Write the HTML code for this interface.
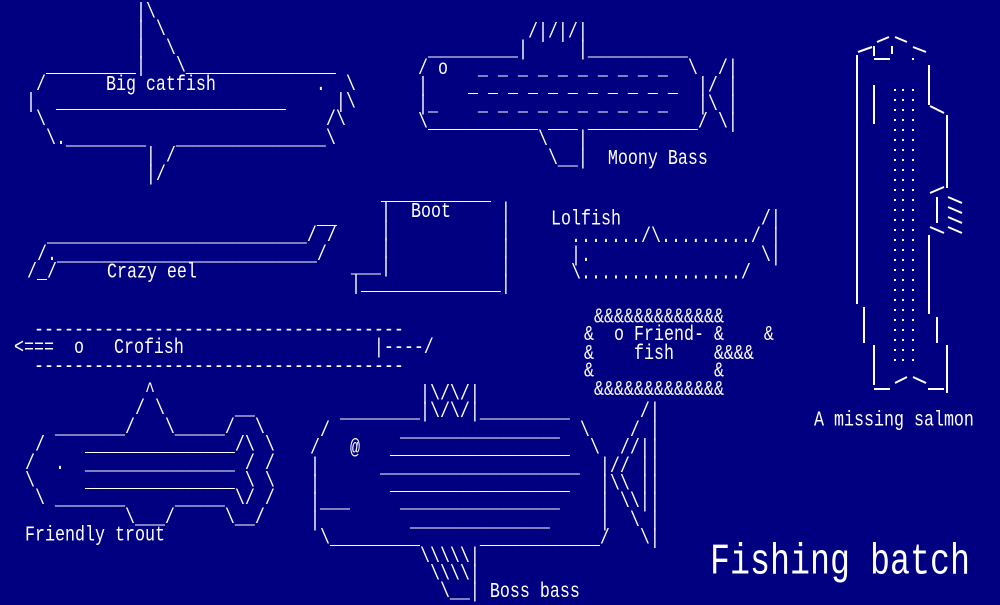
<!DOCTYPE html>
<html><head><meta charset="utf-8">
<style>
html,body{margin:0;padding:0;}
body{width:1000px;height:600px;background:#000080;position:relative;overflow:hidden;}
pre{position:absolute;margin:0;font-family:"Liberation Mono",monospace;font-size:16.667px;line-height:14.4px;color:#fff;white-space:pre;transform:scaleY(1.25);transform-origin:0 0;}
.t{position:absolute;margin:0;font-family:"Liberation Mono",monospace;color:#fff;white-space:pre;transform-origin:0 0;}
</style></head><body>
<pre style="left:6px;top:4.5px">             |\
             | \
             |  \
    _________|   \_______________
   /      Big catfish          .  \
  |  _______________________     |\
   \                            /\
    \.________   _______________\
              | /
              |/</pre>
<pre style="left:418px;top:24.5px">           /|/|/|
 _________|     |__________
/ o   _ _ _ _ _ _ _ _ _ _  \  /|
|    _ _ _ _ _ _ _ _ _ _ _  |/ |
|_    _ _ _ _ _ _ _ _ _ _   |\ |
\___________ ___ ___________/ \|
            \   |
             \__|  Moony Bass</pre>
<pre style="left:27px;top:210.5px">                             __
  __________________________/ /
 /.__________________________/
/_/     Crazy eel</pre>
<pre style="left:351px;top:186.5px">   ___________
   |  Boot     |
   |           |
   |           |
___|           |
|______________|</pre>
<pre style="left:551px;top:211.5px">Lolfish              /|
  ......./\........./ |
  |.                 \|
  \................/</pre>
<pre style="left:14px;top:322.5px">  -------------------------------------
&lt;===  o   Crofish                   |----/
  -------------------------------------</pre>
<pre style="left:584px;top:309.5px"> &amp;&amp;&amp;&amp;&amp;&amp;&amp;&amp;&amp;&amp;&amp;&amp;&amp;
&amp;  o Friend- &amp;    &amp;
&amp;    fish    &amp;&amp;&amp;&amp;
&amp;            &amp;
 &amp;&amp;&amp;&amp;&amp;&amp;&amp;&amp;&amp;&amp;&amp;&amp;&amp;</pre>
<pre style="left:25px;top:383.5px">            ^
           / \       __
   _______/   \_____/  \
 /    _______________/\ \
/  .  _______________ / /
\     _______________ \ \
 \ _______     _____ \/ /
          \___/     \__/
Friendly trout</pre>
<pre style="left:310px;top:386.5px">           |\/\/|
   ________|\/\/|_________       /|
 /       ________________  \    / |
/   @   __________________  \  //||
|      ____________________  |// ||
|       __________________   |\\ ||
|___     ________________    | \\||
|         ______________     |  \ |
 \_________      ____________/   \|
           \\\\\|
            \\\\|
             \__| Boss bass</pre>
<pre style="left:814px;top:412.5px">A missing salmon</pre>
<div class="t" style="left:710px;top:537px;font-size:33.33px;line-height:40px;transform:scaleY(1.3);">Fishing batch</div>
<svg width="1000" height="600" style="position:absolute;left:0;top:0" xmlns="http://www.w3.org/2000/svg">
<g stroke="#fff" stroke-width="2" fill="none">
<line x1="858" y1="52" x2="872" y2="47"/>
<line x1="877" y1="42" x2="889" y2="37"/>
<line x1="895" y1="37" x2="907" y2="42"/>
<line x1="913" y1="47" x2="926" y2="52"/>
<line x1="874" y1="46" x2="874" y2="56"/>
<line x1="892" y1="46" x2="892" y2="54"/>
<line x1="874" y1="59" x2="890" y2="59"/>
<line x1="857" y1="55" x2="857" y2="304"/>
<line x1="874" y1="85" x2="874" y2="124"/>
<line x1="929" y1="65" x2="929" y2="105"/>
<line x1="930" y1="106" x2="944" y2="113"/>
<line x1="947" y1="115" x2="947" y2="188"/>
<line x1="930" y1="193" x2="944" y2="187"/>
<line x1="937" y1="197" x2="937" y2="223"/>
<line x1="930" y1="227" x2="944" y2="233"/>
<line x1="929" y1="235" x2="929" y2="314"/>
<line x1="948" y1="197" x2="962" y2="203"/>
<line x1="948" y1="207" x2="962" y2="213"/>
<line x1="948" y1="217" x2="962" y2="223"/>
<line x1="948" y1="227" x2="962" y2="233"/>
<line x1="864" y1="307" x2="864" y2="343"/>
<line x1="937" y1="317" x2="937" y2="343"/>
<line x1="874" y1="345" x2="874" y2="385"/>
<line x1="947" y1="345" x2="947" y2="393"/>
<line x1="874" y1="389" x2="890" y2="389"/>
<line x1="895" y1="383" x2="907" y2="377"/>
<line x1="913" y1="377" x2="926" y2="383"/>
<line x1="928" y1="389" x2="944" y2="389"/>
</g>
<g fill="#fff">
<rect x="912" y="58" width="2" height="2"/>
<rect x="894" y="89" width="2" height="2"/><rect x="902" y="89" width="2" height="2"/><rect x="912" y="89" width="2" height="2"/>
<rect x="894" y="99" width="2" height="2"/><rect x="902" y="99" width="2" height="2"/><rect x="912" y="99" width="2" height="2"/>
<rect x="894" y="109" width="2" height="2"/><rect x="902" y="109" width="2" height="2"/><rect x="912" y="109" width="2" height="2"/>
<rect x="894" y="119" width="2" height="2"/><rect x="902" y="119" width="2" height="2"/><rect x="912" y="119" width="2" height="2"/>
<rect x="894" y="129" width="2" height="2"/><rect x="902" y="129" width="2" height="2"/><rect x="912" y="129" width="2" height="2"/>
<rect x="894" y="139" width="2" height="2"/><rect x="902" y="139" width="2" height="2"/><rect x="912" y="139" width="2" height="2"/>
<rect x="894" y="149" width="2" height="2"/><rect x="902" y="149" width="2" height="2"/><rect x="912" y="149" width="2" height="2"/>
<rect x="894" y="159" width="2" height="2"/><rect x="902" y="159" width="2" height="2"/><rect x="912" y="159" width="2" height="2"/>
<rect x="894" y="169" width="2" height="2"/><rect x="902" y="169" width="2" height="2"/><rect x="912" y="169" width="2" height="2"/>
<rect x="894" y="179" width="2" height="2"/><rect x="902" y="179" width="2" height="2"/><rect x="912" y="179" width="2" height="2"/>
<rect x="894" y="189" width="2" height="2"/><rect x="902" y="189" width="2" height="2"/><rect x="912" y="189" width="2" height="2"/>
<rect x="894" y="199" width="2" height="2"/><rect x="902" y="199" width="2" height="2"/><rect x="912" y="199" width="2" height="2"/>
<rect x="894" y="209" width="2" height="2"/><rect x="902" y="209" width="2" height="2"/><rect x="912" y="209" width="2" height="2"/>
<rect x="894" y="219" width="2" height="2"/><rect x="902" y="219" width="2" height="2"/><rect x="912" y="219" width="2" height="2"/>
<rect x="894" y="229" width="2" height="2"/><rect x="902" y="229" width="2" height="2"/><rect x="912" y="229" width="2" height="2"/>
<rect x="894" y="239" width="2" height="2"/><rect x="902" y="239" width="2" height="2"/><rect x="912" y="239" width="2" height="2"/>
<rect x="894" y="249" width="2" height="2"/><rect x="902" y="249" width="2" height="2"/><rect x="912" y="249" width="2" height="2"/>
<rect x="894" y="259" width="2" height="2"/><rect x="902" y="259" width="2" height="2"/><rect x="912" y="259" width="2" height="2"/>
<rect x="894" y="269" width="2" height="2"/><rect x="902" y="269" width="2" height="2"/><rect x="912" y="269" width="2" height="2"/>
<rect x="894" y="279" width="2" height="2"/><rect x="902" y="279" width="2" height="2"/><rect x="912" y="279" width="2" height="2"/>
<rect x="894" y="289" width="2" height="2"/><rect x="902" y="289" width="2" height="2"/><rect x="912" y="289" width="2" height="2"/>
<rect x="894" y="299" width="2" height="2"/><rect x="902" y="299" width="2" height="2"/><rect x="912" y="299" width="2" height="2"/>
<rect x="894" y="309" width="2" height="2"/><rect x="902" y="309" width="2" height="2"/><rect x="912" y="309" width="2" height="2"/>
<rect x="894" y="319" width="2" height="2"/><rect x="902" y="319" width="2" height="2"/><rect x="912" y="319" width="2" height="2"/>
<rect x="894" y="329" width="2" height="2"/><rect x="902" y="329" width="2" height="2"/><rect x="912" y="329" width="2" height="2"/>
<rect x="894" y="339" width="2" height="2"/><rect x="902" y="339" width="2" height="2"/><rect x="912" y="339" width="2" height="2"/>
<rect x="894" y="349" width="2" height="2"/><rect x="902" y="349" width="2" height="2"/><rect x="912" y="349" width="2" height="2"/>
<rect x="894" y="359" width="2" height="2"/><rect x="902" y="359" width="2" height="2"/><rect x="912" y="359" width="2" height="2"/>
</g>
</svg>
</body></html>
